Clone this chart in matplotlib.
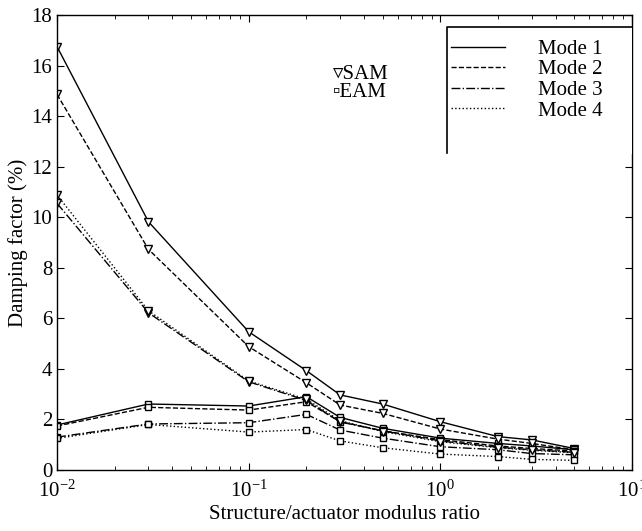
import numpy as np
import matplotlib
matplotlib.use("Agg")
import matplotlib.pyplot as plt

plt.rcParams['font.family'] = ['Liberation Serif', 'DejaVu Sans']
plt.rcParams['mathtext.fontset'] = 'custom'
plt.rcParams['mathtext.rm'] = 'Liberation Serif'

# structure/actuator modulus ratio
ratio = [0.01, 0.03, 0.1, 0.2, 0.3, 0.5, 1, 2, 3, 5]

# SAM damping factor (%) per mode
sam_mode1 = [16.75, 9.82, 5.47, 3.93, 2.97, 2.61, 1.91, 1.32, 1.19, 0.85]
sam_mode2 = [14.86, 8.73, 4.88, 3.45, 2.57, 2.24, 1.62, 1.22, 1.05, 0.80]
sam_mode3 = [10.55, 6.22, 3.49, 2.75, 1.90, 1.55, 1.15, 0.90, 0.80, 0.70]
sam_mode4 = [10.88, 6.30, 3.52, 2.80, 1.95, 1.52, 1.12, 0.88, 0.78, 0.68]

# EAM damping factor (%) per mode
eam_mode1 = [1.78, 2.61, 2.53, 2.90, 2.08, 1.65, 1.26, 1.05, 0.95, 0.80]
eam_mode2 = [1.74, 2.48, 2.37, 2.70, 1.91, 1.55, 1.20, 0.95, 0.85, 0.75]
eam_mode3 = [1.30, 1.82, 1.87, 2.20, 1.58, 1.26, 0.92, 0.80, 0.65, 0.60]
eam_mode4 = [1.25, 1.80, 1.50, 1.60, 1.15, 0.88, 0.63, 0.53, 0.42, 0.38]

mode_labels = ["Mode 1", "Mode 2", "Mode 3", "Mode 4"]
styles = ["-", "--", "-.", ":"]

fig = plt.figure(figsize=(6.42, 5.31), dpi=100)
ax = fig.add_axes([0.0888, 0.1149, 0.8956, 0.8569])

sam = [sam_mode1, sam_mode2, sam_mode3, sam_mode4]
eam = [eam_mode1, eam_mode2, eam_mode3, eam_mode4]
handles = []
for i in range(4):
    ax.plot(ratio, sam[i], color="black", linestyle=styles[i], linewidth=1.0,
            marker="v", markersize=6, markerfacecolor="white", markeredgecolor="black")
    ax.plot(ratio, eam[i], color="black", linestyle=styles[i], linewidth=1.0,
            marker="s", markersize=5, markerfacecolor="white", markeredgecolor="black")
    handles.append(plt.Line2D([], [], color="black", linestyle=styles[i], linewidth=1.0))

ax.set_xscale("log")
ax.set_xlim(0.01, 10)
ax.set_ylim(0, 18)
ax.set_yticks(np.arange(0, 19, 2))
ax.tick_params(which="both", direction="in", top=True, right=True, labelsize=15)
ax.tick_params(which="major", length=5)
ax.tick_params(which="minor", length=3)
ax.tick_params(axis="x", which="major", pad=8)
for s in ax.spines.values():
    s.set_linewidth(1.0)

ax.set_xlabel("Structure/actuator modulus ratio", fontsize=15, labelpad=2)
ax.set_ylabel("Damping factor (%)", fontsize=15, labelpad=2)

# legend box: only the top and left edges show in the original
ax.fill([0.678, 1.0, 1.0, 0.678], [0.697, 0.697, 0.974, 0.974], transform=ax.transAxes,
        color="white", zorder=3)
ax.plot([0.678, 0.678, 1.0], [0.697, 0.974, 0.974], transform=ax.transAxes,
        color="black", linewidth=1.2, zorder=3, clip_on=False)
leg = ax.legend(handles, mode_labels, loc="upper left", bbox_to_anchor=(0.67, 0.965),
                frameon=False, fontsize=15, handlelength=2.6, handletextpad=1.6,
                labelspacing=0.05, borderaxespad=0)
leg.set_zorder(4)

ax.text(0.48, 0.87, "\u25bfSAM", transform=ax.transAxes, fontsize=15, va="center")
ax.text(0.48, 0.83, "\u25abEAM", transform=ax.transAxes, fontsize=15, va="center")

fig.savefig("out.png", dpi=100)
